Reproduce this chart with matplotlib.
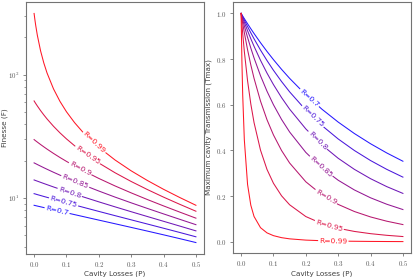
import numpy as np
import matplotlib
matplotlib.use("Agg")
import matplotlib.pyplot as plt
from matplotlib.ticker import FuncFormatter, LogLocator, FixedLocator, NullFormatter

plt.rcParams['mathtext.fontset'] = 'cm'

# ---------------- data ----------------
reflectivities = [0.7, 0.75, 0.8, 0.85, 0.9, 0.95, 0.99]
losses = [0, 0.0025, 0.005, 0.01, 0.02, 0.03, 0.04, 0.06, 0.08, 0.1, 0.125,
          0.15, 0.2, 0.25, 0.3, 0.35, 0.4, 0.45, 0.5]

finesse_070 = [8.761, 8.730, 8.700, 8.638, 8.518, 8.399, 8.282, 8.054, 7.834, 7.621, 7.364,
               7.117, 6.648, 6.212, 5.803, 5.418, 5.053, 4.707, 4.376]
finesse_075 = [10.88, 10.84, 10.79, 10.69, 10.51, 10.33, 10.16, 9.818, 9.495, 9.186, 8.817,
               8.467, 7.817, 7.224, 6.681, 6.180, 5.714, 5.280, 4.871]
finesse_080 = [14.05, 13.97, 13.89, 13.74, 13.44, 13.15, 12.87, 12.33, 11.83, 11.35, 10.80,
               10.28, 9.342, 8.513, 7.773, 7.107, 6.502, 5.950, 5.440]
finesse_085 = [19.31, 19.16, 19.02, 18.73, 18.18, 17.65, 17.15, 16.21, 15.36, 14.57, 13.67,
               12.86, 11.43, 10.21, 9.172, 8.264, 7.463, 6.748, 6.105]
finesse_090 = [29.80, 29.45, 29.11, 28.45, 27.19, 26.04, 24.96, 23.03, 21.34, 19.86, 18.23,
               16.81, 14.45, 12.57, 11.04, 9.753, 8.661, 7.718, 6.893]
finesse_095 = [61.24, 59.78, 58.39, 55.78, 51.16, 47.22, 43.80, 38.19, 33.77, 30.20, 26.59,
               23.68, 19.27, 16.07, 13.65, 11.75, 10.20, 8.925, 7.844]
finesse_099 = [312.6, 278.0, 250.2, 208.4, 155.9, 124.3, 103.1, 76.64, 60.71, 50.07, 40.89,
               34.39, 25.81, 20.39, 16.65, 13.91, 11.80, 10.13, 8.763]

tmax_070 = [1.0, 0.9942, 0.9884, 0.9770, 0.9547, 0.9330, 0.9120, 0.8717, 0.8336, 0.7976, 0.7552,
            0.7156, 0.6438, 0.5804, 0.5243, 0.4742, 0.4295, 0.3892, 0.3529]
tmax_075 = [1.0, 0.9925, 0.9852, 0.9706, 0.9423, 0.9151, 0.8890, 0.8395, 0.7937, 0.7510, 0.7018,
            0.6566, 0.5768, 0.5088, 0.4504, 0.3999, 0.3559, 0.3174, 0.2833]
tmax_080 = [1.0, 0.9901, 0.9803, 0.9611, 0.9242, 0.8892, 0.8561, 0.7946, 0.7389, 0.6884, 0.6316,
            0.5808, 0.4944, 0.4239, 0.3658, 0.3174, 0.2765, 0.2418, 0.2121]
tmax_085 = [1.0, 0.9860, 0.9722, 0.9455, 0.8951, 0.8484, 0.8051, 0.7272, 0.6595, 0.6002, 0.5359,
            0.4808, 0.3915, 0.3231, 0.2697, 0.2272, 0.1928, 0.1647, 0.1414]
tmax_090 = [1.0, 0.9779, 0.9564, 0.9155, 0.8410, 0.7749, 0.7160, 0.6159, 0.5347, 0.4680, 0.3999,
            0.3450, 0.2629, 0.2055, 0.1639, 0.1328, 0.1090, 0.0904, 0.0756]
tmax_095 = [1.0, 0.9541, 0.9113, 0.8336, 0.7050, 0.6036, 0.5222, 0.4012, 0.3171, 0.2564, 0.2016,
            0.1622, 0.1107, 0.0796, 0.0594, 0.0456, 0.0358, 0.0286, 0.0232]
tmax_099 = [1.0, 0.7918, 0.6423, 0.4466, 0.2513, 0.1605, 0.1111, 0.0620, 0.0393, 0.0271, 0.0183,
            0.0131, 0.0076, 0.0049, 0.0034, 0.0025, 0.0018, 0.0014, 0.0011]

finesse = [finesse_070, finesse_075, finesse_080, finesse_085, finesse_090, finesse_095, finesse_099]
tmax = [tmax_070, tmax_075, tmax_080, tmax_085, tmax_090, tmax_095, tmax_099]
labels = ["R=0.7", "R=0.75", "R=0.8", "R=0.85", "R=0.9", "R=0.95", "R=0.99"]

# ---------------- figure ----------------
W, H = 415, 277
fig = plt.figure(figsize=(W / 100, H / 100), dpi=100)
axL = fig.add_axes([26 / W, (H - 254) / H, (204 - 26) / W, (254 - 2) / H])
axR = fig.add_axes([233 / W, (H - 253) / H, (411 - 233) / W, (253 - 2) / H])

spine_c = '0.45'
tick_fs = 5.0
lab_fs = 5.2
P = np.array(losses)
n = len(reflectivities)


def col(i):
    t = i / (n - 1)
    base = np.array([t, 0.0, 1 - t])
    return tuple(base * 0.85 + 0.15 * np.array([1.0, 1.0, 1.0]) * np.array([1, 0.6, 1]))


colors = [col(i) for i in range(n)]

for i in range(n):
    axL.plot(P, finesse[i], color=colors[i], lw=0.75)
    axR.plot(P, tmax[i], color=colors[i], lw=0.75)

axL.set_yscale('log')
axL.yaxis.set_major_locator(LogLocator(base=10))
axL.yaxis.set_major_formatter(FuncFormatter(lambda v, p: r'$10^{%d}$' % round(np.log10(v))))
axL.yaxis.set_minor_formatter(NullFormatter())
axR.yaxis.set_major_locator(FixedLocator([0.0, 0.2, 0.4, 0.6, 0.8, 1.0]))
axR.yaxis.set_major_formatter(FuncFormatter(lambda v, p: r'$%.1f$' % v))

for ax in (axL, axR):
    ax.set_xticks([0.0, 0.1, 0.2, 0.3, 0.4, 0.5])
    ax.xaxis.set_major_formatter(FuncFormatter(lambda v, p: r'$%.1f$' % v))
    for s in ax.spines.values():
        s.set_color(spine_c)
        s.set_linewidth(0.8)
    ax.tick_params(which='major', length=2.5, width=0.6, color=spine_c,
                   labelsize=tick_fs, labelcolor='0.35', pad=2)
    ax.tick_params(which='minor', length=1.3, width=0.5, color=spine_c)
    ax.set_xlabel('Cavity Losses (P)', fontsize=lab_fs, color='0.25')

axL.set_ylabel('Finesse (F)', fontsize=lab_fs, color='0.25')
axR.set_ylabel('Maximum cavity Transmission (Tmax)', fontsize=lab_fs, color='0.25')
axL.yaxis.set_label_coords(-0.101, 0.5)
axR.yaxis.set_label_coords(-0.118, 0.5)
axL.xaxis.set_label_coords(0.5, -0.066)
axR.xaxis.set_label_coords(0.5, -0.0705)

# ---------------- inline labels ----------------
left_label_x = [0.071, 0.091, 0.11, 0.127, 0.142, 0.165, 0.185]
right_label_x = [0.211, 0.221, 0.236, 0.246, 0.262, 0.272, 0.285]


def place(ax, xs, ys, x0, text, color, logy=False):
    ys = np.array(ys, dtype=float)
    if logy:
        f = lambda x: np.exp(np.interp(x, xs, np.log(ys)))
    else:
        f = lambda x: np.interp(x, xs, ys)
    y0 = f(x0)
    p1 = ax.transData.transform((x0 - 0.01, f(x0 - 0.01)))
    p2 = ax.transData.transform((x0 + 0.01, f(x0 + 0.01)))
    ang = np.degrees(np.arctan2(p2[1] - p1[1], p2[0] - p1[0]))
    ax.text(x0, y0, text, color=color, fontsize=5.4, rotation=ang,
            rotation_mode='anchor', ha='center', va='center',
            bbox=dict(boxstyle='square,pad=0.15', fc='white', ec='none'), zorder=5)


fig.canvas.draw()
for i in range(n):
    place(axL, P, finesse[i], left_label_x[i], labels[i], colors[i], logy=True)
    place(axR, P, tmax[i], right_label_x[i], labels[i], colors[i])

fig.savefig('out.png', dpi=100)
